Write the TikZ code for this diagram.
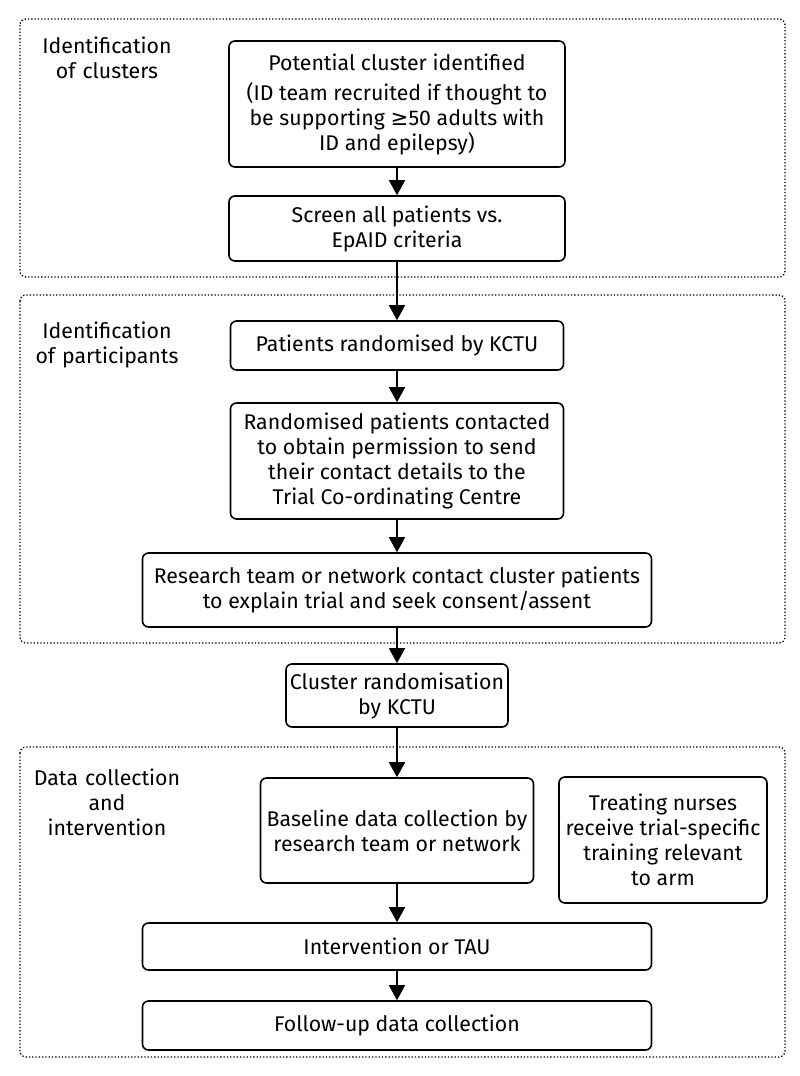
\documentclass[tikz,border=0pt]{standalone}
\usepackage{fontspec}
\setmainfont{Fira Sans}
\newfontfamily\symfont{DejaVu Sans}
\usepackage{tikz}
\usetikzlibrary{arrows.meta, positioning}

\begin{document}
\begin{tikzpicture}[x=1pt, y=-1pt, font=\fontsize{21.3}{25}\selectfont]
            % Define block styles
            \tikzstyle{block} = [draw, rectangle, rounded corners=6pt, line width=1.6pt, align=center, inner sep=2pt]
            \tikzstyle{group} = [draw, dash pattern=on 1.3pt off 2pt, rounded corners=6pt, line width=1.3pt]
            \tikzstyle{phaselabel} = [text width=160pt, align=center, inner sep=0pt]
            \tikzstyle{flow} = [-{Triangle[length=15pt, width=16pt]}, line width=1.6pt]

            \useasboundingbox (0,0) rectangle (800,1076);

            % Stage frames
            \draw[group] (20,19) rectangle (785,277);
            \draw[group] (20,295) rectangle (785,643);
            \draw[group] (20,747) rectangle (785,1057);

            % Stage labels
            \node[phaselabel] at (107,57.5) (lclus) {Identification\\of clusters};
            \node[phaselabel] at (107,344.5) (lpart) {Identification\\of participants};
            \node[phaselabel] at (107,802) (ldata) {Data collection\\and\\intervention};

            % Nodes
            \node[block, minimum width=336pt, minimum height=126pt] at (397,104) (ident) {Potential cluster identified\\[5pt](ID team recruited if thought to\\be supporting {\symfont ≥}50 adults with\\ID and epilepsy)};
            \node[block, minimum width=336pt, minimum height=65pt] at (397,228.5) (screen) {Screen all patients vs.\\EpAID criteria};
            \node[block, minimum width=333pt, minimum height=49pt] at (397,345.5) (rand) {Patients randomised by KCTU};
            \node[block, minimum width=333pt, minimum height=116pt] at (397,461) (contact) {Randomised patients contacted\\to obtain permission to send\\their contact details to the\\Trial Co-ordinating Centre};
            \node[block, minimum width=509pt, minimum height=74pt] at (397,590) (consent) {Research team or network contact cluster patients\\to explain trial and seek consent/assent};
            \node[block, minimum width=222pt, minimum height=63pt] at (397,695.5) (crand) {Cluster randomisation\\by KCTU};
            \node[block, minimum width=273pt, minimum height=105pt] at (397,830.5) (base) {Baseline data collection by\\research team or network};
            \node[block, minimum width=208pt, minimum height=126pt] at (663,840) (nurse) {Treating nurses\\receive trial-specific\\training relevant\\to arm};
            \node[block, minimum width=509pt, minimum height=47pt] at (397,946.5) (interv) {Intervention or TAU};
            \node[block, minimum width=509pt, minimum height=49pt] at (397,1025.5) (follow) {Follow-up data collection};

            \draw[flow] (ident) -- (screen);
            \draw[flow] (screen) -- (rand);
            \draw[flow] (rand) -- (contact);
            \draw[flow] (contact) -- (consent);
            \draw[flow] (consent) -- (crand);
            \draw[flow] (crand) -- (base);
            \draw[flow] (base) -- (interv);
            \draw[flow] (interv) -- (follow);
        \end{tikzpicture}
\end{document}
